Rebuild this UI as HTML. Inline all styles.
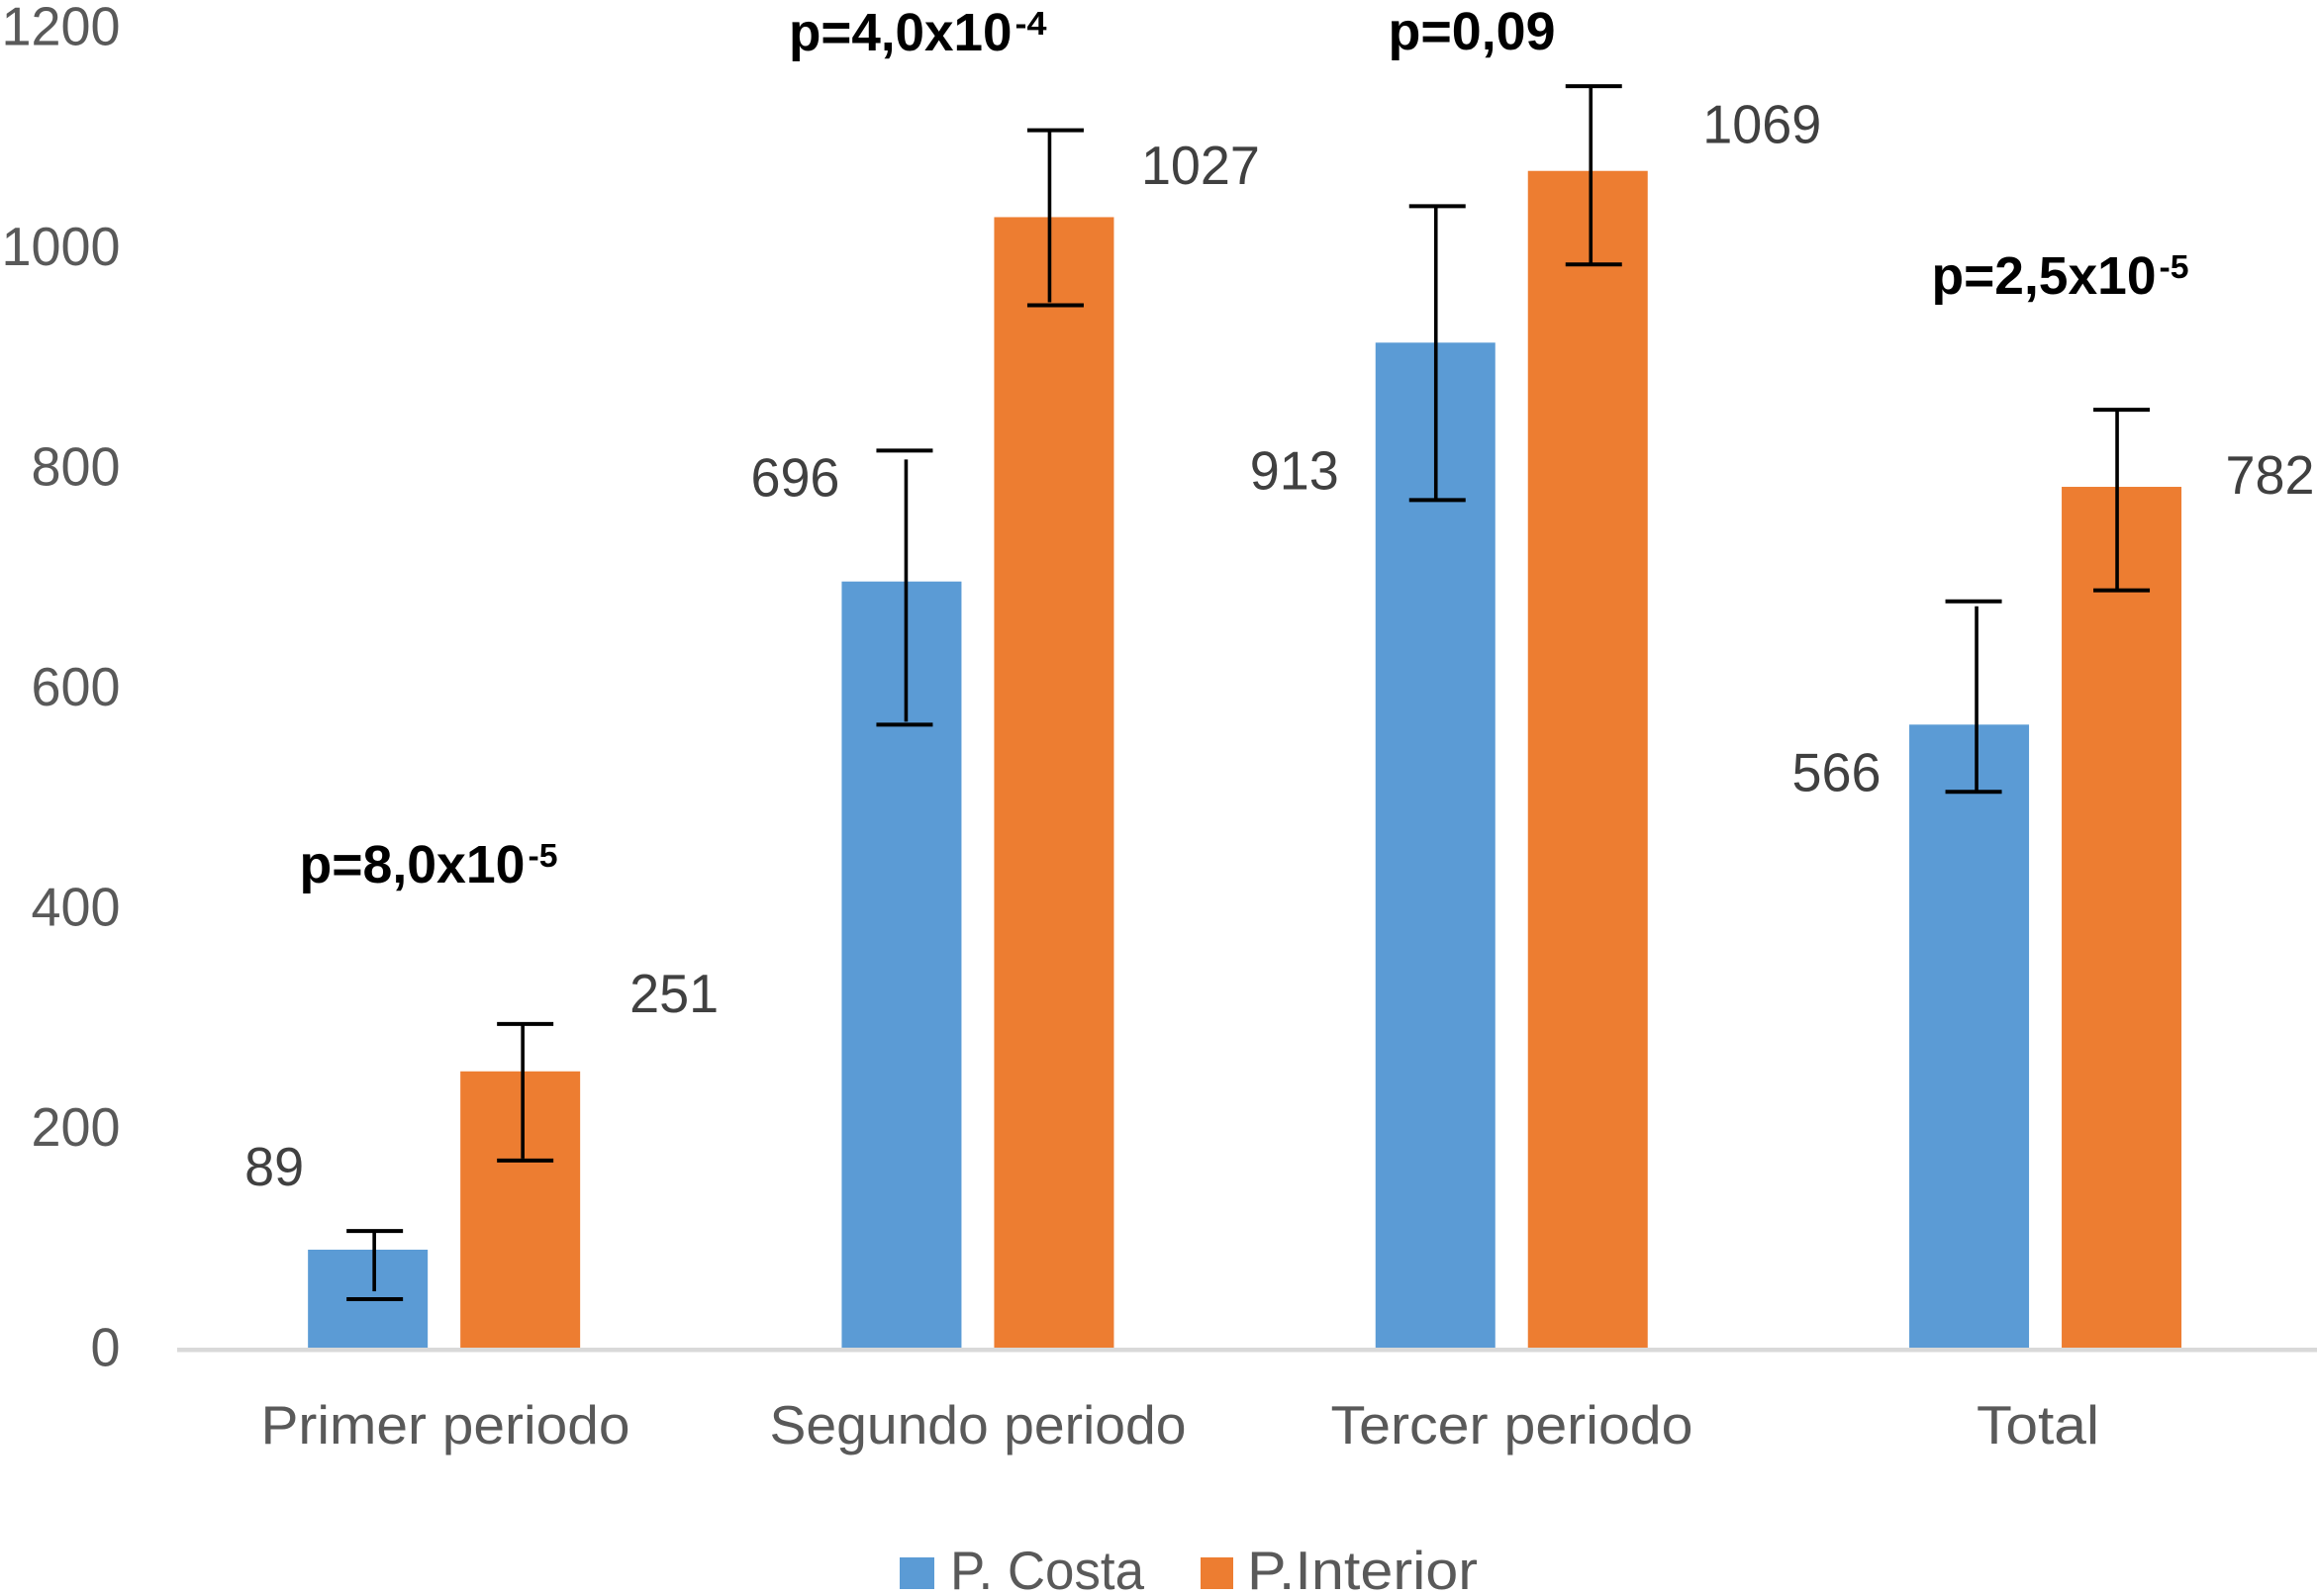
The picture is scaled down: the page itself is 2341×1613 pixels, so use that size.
<!DOCTYPE html>
<html lang="es">
<head>
<meta charset="utf-8">
<title>P. Costa vs P.Interior</title>
<style>
html,body{margin:0;padding:0;background:#fff;}
svg{display:block;}
text{font-family:"Liberation Sans",sans-serif;}
</style>
</head>
<body>
<svg id="chart" xmlns="http://www.w3.org/2000/svg" width="2341" height="1613" viewBox="0 0 2341 1613"></svg>
<script>
// ---- data ----
const categories = ["Primer periodo", "Segundo periodo", "Tercer periodo", "Total"];
const costaValues = [89, 696, 913, 566];
const interiorValues = [251, 1027, 1069, 782];
const costaErrHigh = [106, 815, 1037, 678];
const costaErrLow = [44, 566, 770, 505];
const interiorErrHigh = [294, 1106, 1146, 852];
const interiorErrLow = [170, 947, 984, 688];
const yTicks = [0, 200, 400, 600, 800, 1000, 1200];
const pMain = ["p=8,0x10", "p=4,0x10", "p=0,09", "p=2,5x10"];
const pSup = ["-5", "-4", "", "-5"];
const seriesNames = ["P. Costa", "P.Interior"];

// ---- layout ----
const plotLeft = 179, plotRight = 2341, baseY = 1362, pxPerUnit = 1.1125, bandStep = 539.3;
const barW = 121, barGap = 33, capHalf = 28.5, digitW = 30;
const FS = 55;
const BLUE = "#5B9BD5", ORANGE = "#ED7D31";
function yScale(v) { return baseY - v * pxPerUnit; }
function bandCenter(i) { return plotLeft + bandStep * (i + 0.5); }
function costaLeft(i) { return bandCenter(i) - barGap / 2 - barW; }
function interiorLeft(i) { return bandCenter(i) + barGap / 2; }

// hand-placed nudges seen in the reference, kept apart from the data
const layoutNudge = {
  costaLine: [6.5, 4.5, 0.5, 7.5],
  interiorLine: [2.5, -4.5, 3, -4.5],
  costaCap: [7, 3, 2, 4.5],
  interiorCap: [5, 1.5, 6, 0],
  costaGapTop: [0, 9, 0, 5],
  costaGapLow: [8, 3, 0, 0],
  interiorGapLow: [2, 3, 0, 0],
  costaLabelDx: [-4, -2, -37, -28.5],
  costaLabelDy: [-65, -86, 148, 67],
  interiorLabelDx: [50, 27.5, 55.5, 44.5],
  interiorLabelDy: [-60, -33.5, -28, 7],
  categoryCenter: [450, 988, 1527.5, 2059],
  categoryWidth: [373, 421, 366, 124],
  pStart: [302.5, 797, 1402.5, 1951.5],
  pWidth: [228, 225.5, 169, 227],
  pBase: [892, 51, 50, 297],
  supWidth: [30, 32, 0, 30]
};

const svg = document.getElementById("chart");
const NS = "http://www.w3.org/2000/svg";
function mk(tag, attrs, txt) {
  const e = document.createElementNS(NS, tag);
  for (const k in attrs) e.setAttribute(k, attrs[k]);
  if (txt !== undefined) e.textContent = txt;
  svg.appendChild(e);
  return e;
}
function fitText(x, y, str, width, fill, weight, size) {
  return mk("text", {
    x: x, y: y, fill: fill, "font-size": size || FS, "font-weight": weight || "normal",
    textLength: width, lengthAdjust: "spacingAndGlyphs"
  }, str);
}

// y-axis ticks
yTicks.forEach(function (t) {
  const s = String(t);
  const w = s.length * digitW;
  const el = fitText(121.5 - w, yScale(t) + 18.5, s, w, "#595959");
  
  
});

// bars
categories.forEach(function (c, i) {
  const yc = yScale(costaValues[i]);
  const b1 = mk("rect", { x: costaLeft(i), y: yc, width: barW, height: baseY - yc, fill: BLUE });
  
  
  const yi = yScale(interiorValues[i]);
  const b2 = mk("rect", { x: interiorLeft(i), y: yi, width: barW, height: baseY - yi, fill: ORANGE });
  
  
});

// axis line
const axis = mk("line", { x1: plotLeft, x2: plotRight, y1: baseY + 2.25, y2: baseY + 2.25, stroke: "#D9D9D9", "stroke-width": 4.5 });



// error bars
function drawErr(cx, capCx, hi, lo, gapTop, gapLow, name) {
  const yH = yScale(hi), yL = yScale(lo);
  const line = mk("line", { x1: cx, x2: cx, y1: yH + gapTop, y2: yL - gapLow, stroke: "#000", "stroke-width": 3.6 });
  
  
  const capTop = mk("line", { x1: capCx - capHalf, x2: capCx + capHalf, y1: yH, y2: yH, stroke: "#000", "stroke-width": 4 });
  
  
  const capLow = mk("line", { x1: capCx - capHalf, x2: capCx + capHalf, y1: yL, y2: yL, stroke: "#000", "stroke-width": 4 });
  
  
}
categories.forEach(function (c, i) {
  const n = layoutNudge;
  const cCenter = costaLeft(i) + barW / 2;
  const iCenter = interiorLeft(i) + barW / 2;
  drawErr(cCenter + n.costaLine[i], cCenter + n.costaCap[i], costaErrHigh[i], costaErrLow[i], n.costaGapTop[i], n.costaGapLow[i], 'error-bar-costa');
  drawErr(iCenter + n.interiorLine[i], iCenter + n.interiorCap[i], interiorErrHigh[i], interiorErrLow[i], 0, n.interiorGapLow[i], 'error-bar-interior');
});

// data labels
categories.forEach(function (c, i) {
  const n = layoutNudge;
  const s1 = String(costaValues[i]);
  const w1 = s1.length * digitW;
  const l1 = fitText(costaLeft(i) + n.costaLabelDx[i] - w1, yScale(costaValues[i]) + n.costaLabelDy[i], s1, w1, "#404040");
  
  
  const s2 = String(interiorValues[i]);
  const w2 = s2.length * digitW;
  const l2 = fitText(interiorLeft(i) + barW + n.interiorLabelDx[i], yScale(interiorValues[i]) + n.interiorLabelDy[i], s2, w2, "#404040");
  
  
});

// category labels
categories.forEach(function (c, i) {
  const n = layoutNudge;
  const el = fitText(n.categoryCenter[i] - n.categoryWidth[i] / 2, 1459, c, n.categoryWidth[i], "#595959");
  
  
});

// p-value annotations
pMain.forEach(function (p, i) {
  const n = layoutNudge;
  const el = fitText(n.pStart[i], n.pBase[i], p, n.pWidth[i], "#000", "bold", 54);
  
  
  if (pSup[i]) {
    const sup = fitText(n.pStart[i] + n.pWidth[i] + 3, n.pBase[i] - 16, pSup[i], n.supWidth[i], "#000", "bold", 33);
    
    
  }
});

// legend
const swatch1 = mk("rect", { x: 909, y: 1574, width: 35, height: 32, fill: BLUE });


const legend1 = fitText(960, 1606, seriesNames[0], 196, "#595959");


const swatch2 = mk("rect", { x: 1213, y: 1574, width: 33, height: 32, fill: ORANGE });


const legend2 = fitText(1260, 1606, seriesNames[1], 233, "#595959");


</script>
</body>
</html>
